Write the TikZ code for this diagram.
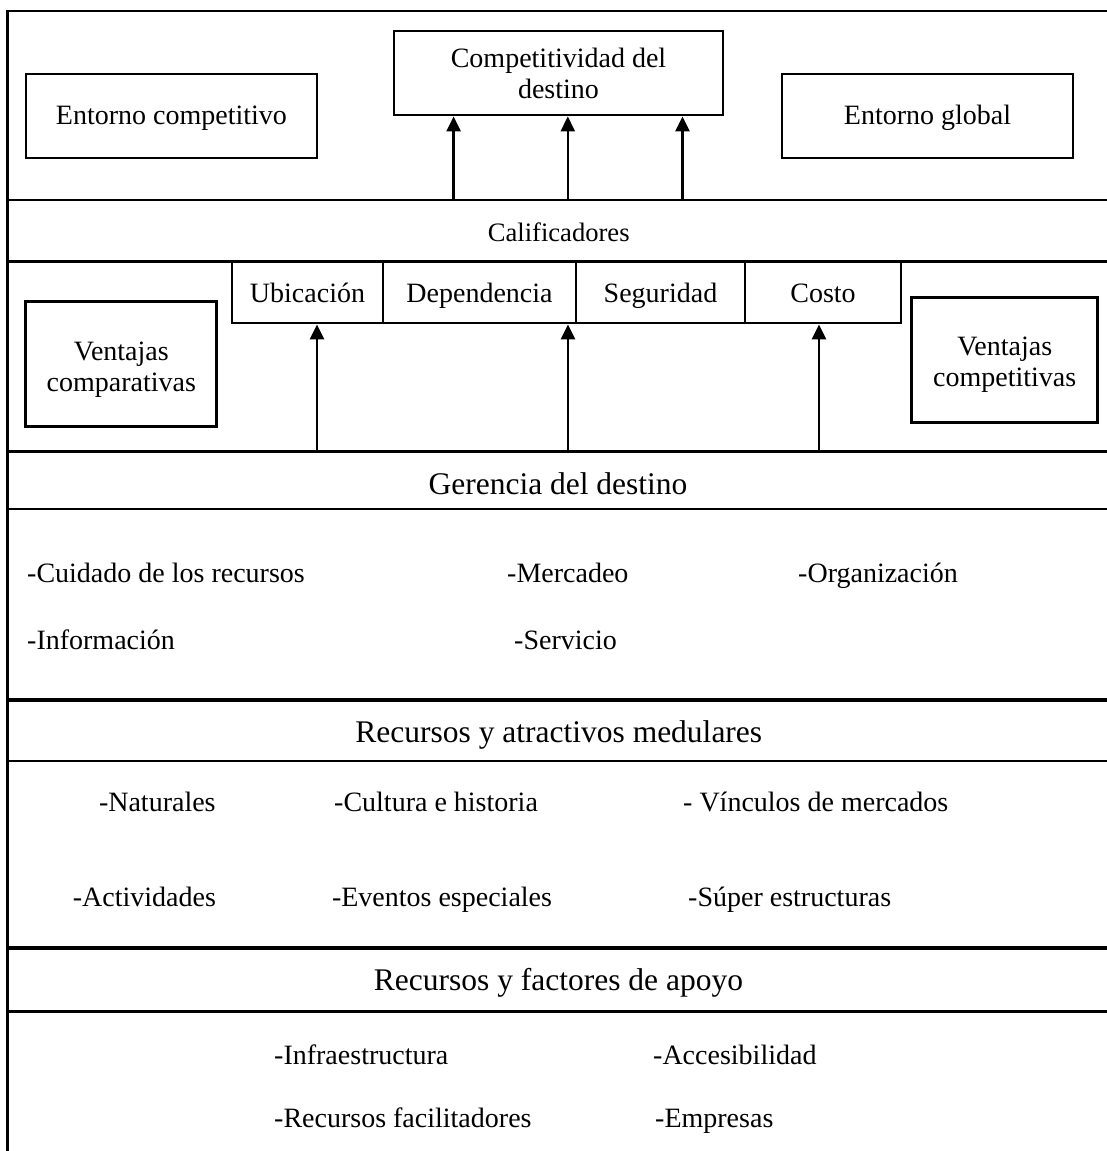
\documentclass[tikz,border=0pt]{standalone}
\usepackage{fontspec}
\setmainfont{Liberation Serif}
\usetikzlibrary{arrows.meta}
\begin{document}
\begin{tikzpicture}[x=1pt,y=-1pt,
  txt/.style={font=\fontsize{28}{32}\selectfont},
  box/.style={txt, draw, line width=2.8pt, inner sep=0pt, align=center},
  cell/.style={box, minimum height=61.5pt, text height=23pt, text depth=2pt},
  inner/.style={txt, align=center},
  item/.style={txt, anchor=west, inner sep=0pt, text height=19pt, text depth=0pt},
  head/.style={inner sep=0pt, text height=21pt, text depth=0pt, font=\fontsize{31.5}{36}\selectfont},
  band/.style={line width=2.2pt},
  heavy/.style={line width=4pt},
  arr/.style={line width=2.4pt, -{Triangle[length=15pt,width=14pt]}}
]
\useasboundingbox (0,0) rectangle (1107,1151);

% frame and horizontal bands
\draw[line width=3pt] (7.5,10) -- (7.5,1151);
\draw[band] (6,11) -- (1107,11);
\draw[band] (6,200) -- (1107,200);
\draw[band,line width=2.6pt] (6,261.5) -- (1107,261.5);
\draw[band,line width=2.6pt] (6,451.5) -- (1107,451.5);
\draw[band,line width=2.6pt] (6,509) -- (1107,509);
\draw[heavy] (6,700) -- (1107,700);
\draw[band,line width=2.6pt] (6,761) -- (1107,761);
\draw[heavy] (6,947.5) -- (1107,947.5);
\draw[band,line width=3pt] (6,1011.5) -- (1107,1011.5);

% top row
\node[box, minimum width=291pt, minimum height=84pt, text height=19pt, text depth=3pt] (ec) at (171.4,116) {Entorno competitivo};
\node[box, minimum width=329pt, minimum height=84pt] (comp) at (558.5,73)
  {Competitividad del\\[-1pt]destino};
\node[box, minimum width=291pt, minimum height=84pt, text height=19pt, text depth=3pt] (eg) at (927.5,116) {Entorno global};

% qualifiers band
\node[inner sep=0pt, text height=18pt, text depth=0pt, font=\fontsize{26.6}{30}\selectfont]
  (calif) at (558.7,232) {Calificadores};

\coordinate (a1) at (453.6,200);
\coordinate (a2) at (567.8,200);
\coordinate (a3) at (682.5,200);
\draw[arr] (a1) -- (a1 |- comp.south);
\draw[arr] (a2) -- (a2 |- comp.south);
\draw[arr] (a3) -- (a3 |- comp.south);

% qualifier cells
\node[cell, minimum width=151pt] (ubi) at (307.5,292.25) {Ubicación};
\node[cell, minimum width=193pt] (dep) at (479.5,292.25) {Dependencia};
\node[cell, minimum width=169pt] (seg) at (660.5,292.25) {Seguridad};
\node[cell, minimum width=156pt] (cos) at (823,292.25) {Costo};

\node[box, minimum width=191pt, minimum height=125pt,
  label={[inner, yshift=-6pt]center:{Ventajas\\[-1pt]comparativas}}] (vcomp) at (121.3,364.2) {};
\node[box, minimum width=186pt, minimum height=125pt,
  label={[inner, yshift=-5pt]center:{Ventajas\\[-1pt]competitivas}}] (vcomt) at (1004.7,360.2) {};

\coordinate (b1) at (317,451.5);
\coordinate (b2) at (568,451.5);
\coordinate (b3) at (819,451.5);
\draw[arr] (b1) -- (b1 |- ubi.south);
\draw[arr] (b2) -- (b2 |- dep.south);
\draw[arr] (b3) -- (b3 |- cos.south);

% destination management
\node[head] (ger) at (558,483.5) {Gerencia del destino};
\node[item] (g1) at (27,573) {-Cuidado de los recursos};
\node[item] (g2) at (507,573) {-Mercadeo};
\node[item] (g3) at (798,573) {-Organización};
\node[item] (g4) at (27,640) {-Información};
\node[item] (g5) at (514,640) {-Servicio};

% core resources and attractors
\node[head] (rec) at (558.8,732) {Recursos y atractivos medulares};
\node[item] (r1) at (98.8,801.7) {-Naturales};
\node[item] (r2) at (334,801.7) {-Cultura e historia};
\node[item] (r3) at (683,801.7) {- Vínculos de mercados};
\node[item] (r4) at (72.7,896.7) {-Actividades};
\node[item] (r5) at (331.8,896.7) {-Eventos especiales};
\node[item] (r6) at (688,896.7) {-Súper estructuras};

% supporting factors
\node[head] (apo) at (558.5,980) {Recursos y factores de apoyo};
\node[item] (s1) at (274,1055) {-Infraestructura};
\node[item] (s2) at (653,1055) {-Accesibilidad};
\node[item] (s3) at (274,1118) {-Recursos facilitadores};
\node[item] (s4) at (655,1118) {-Empresas};
\end{tikzpicture}
\end{document}
